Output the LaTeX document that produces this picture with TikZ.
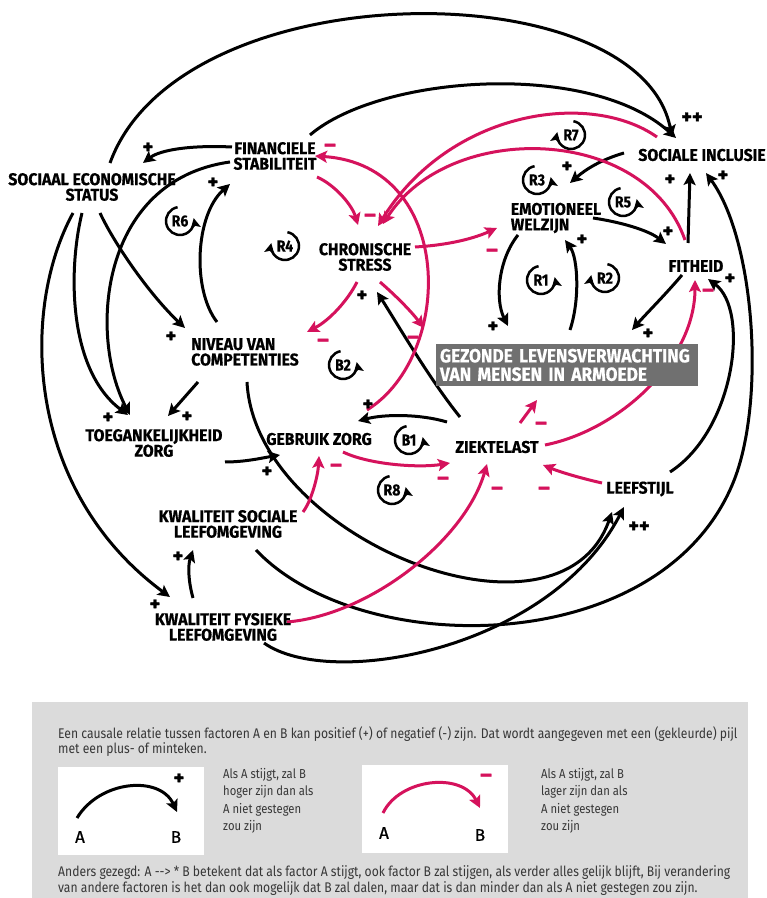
\documentclass[tikz,border=0pt]{standalone}
\usepackage{fontspec}
\setmainfont{Fira Sans}
\newfontfamily\condfont[FakeStretch=0.93, FakeBold=0.6]{Fira Sans}
\newfontfamily\goalfont[FakeStretch=0.91, FakeBold=0.6]{Fira Sans}
\newfontfamily\loopfont[FakeStretch=0.88, FakeBold=0.4]{Fira Sans}
\newfontfamily\signfont[FakeBold=1.5]{Fira Sans}
\newfontfamily\letterfont[FakeBold=0.8]{Fira Sans}
\newfontfamily\legfont[FakeStretch=0.867]{Fira Sans}
\usetikzlibrary{
	arrows.meta,
	backgrounds
}
\definecolor{roze}{RGB}{213,18,92}
\definecolor{kader}{RGB}{219,219,219}
\definecolor{balk}{RGB}{112,112,112}
\definecolor{tekst}{RGB}{55,55,55}

\begin{document}
\begin{tikzpicture}[
		x=1pt, y=1pt,
		factor/.style={font=\condfont\bfseries\fontsize{17}{15.5}\selectfont, align=center, inner sep=1pt},
		goal/.style={fill=balk, text=white, font=\goalfont\bfseries\fontsize{19}{18.5}\selectfont, align=left, text width=254pt, inner xsep=4pt, inner ysep=1pt, minimum height=42pt},
		posarr/.style={line width=3pt, -{Stealth[length=12pt, width=12pt, inset=2.5pt]}},
		negarr/.style={posarr, draw=roze},
		plussign/.style={font=\signfont\bfseries\fontsize{20}{20}\selectfont, inner sep=0pt},
		minsign/.style={font=\signfont\bfseries\fontsize{22}{22}\selectfont, text=roze, inner sep=0pt},
		loopmark/.style={font=\loopfont\bfseries\fontsize{16}{16}\selectfont, inner sep=0pt},
		looparr/.style={line width=2.5pt, -{Stealth[length=10pt, width=10pt, inset=2pt]}},
		voorbeeld/.style={fill=white, minimum width=146pt, minimum height=88pt, inner sep=0pt},
		letter/.style={font=\letterfont\fontsize{17}{17}\selectfont, inner sep=0pt},
		legtext/.style={font=\legfont\fontsize{14}{13.5}\selectfont, text=tekst, align=left, inner sep=0pt},
		boxtext/.style={legtext, font=\legfont\fontsize{13}{17.5}\selectfont}
		]
		\useasboundingbox (0,0) rectangle (767,898);
		
		% Factors
		\node[factor] (ses) at (92,711) {SOCIAAL ECONOMISCHE\\STATUS};
		\node[factor] (fin) at (275,742) {FINANCIELE\\STABILITEIT};
		\node[factor] (stress) at (365,641) {CHRONISCHE\\STRESS};
		\node[factor, align=left] (emo) at (556,680) {EMOTIONEEL\\WELZIJN};
		\node[factor] (incl) at (702,743) {SOCIALE INCLUSIE};
		\node[factor] (fit) at (696,632) {FITHEID};
		\node[factor, align=left] (comp) at (245,546) {NIVEAU VAN\\COMPETENTIES};
		\node[goal] (gezond) at (567,533) {GEZONDE LEVENSVERWACHTING\\VAN MENSEN IN ARMOEDE};
		\node[factor] (toeg) at (154,455) {TOEGANKELIJKHEID\\ZORG};
		\node[factor] (gebruik) at (319,459) {GEBRUIK ZORG};
		\node[factor] (ziekte) at (497,451) {ZIEKTELAST};
		\node[factor] (leefstijl) at (640,409) {LEEFSTIJL};
		\node[factor] (sociaal) at (228,374) {KWALITEIT SOCIALE\\LEEFOMGEVING};
		\node[factor] (fysiek) at (223,271) {KWALITEIT FYSIEKE\\LEEFOMGEVING};
		
		\begin{scope}[on background layer]
			\fill[white] (0,0) rectangle (767,898);
			
			% Positive links
			\draw[posarr] ([shift={(18,24)}]ses.center) .. controls (180,928) and (640,928) .. ([shift={(-30,18)}]incl.center);
			\draw[posarr] ([shift={(35,21)}]fin.center) .. controls (380,823) and (590,838) .. ([shift={(-26,17)}]incl.center);
			\draw[posarr] ([shift={(-43,9)}]fin.center) .. controls (190,753) and (160,748) .. ([shift={(51,24)}]ses.center);
			\draw[posarr] ([shift={(-45,-6)}]fin.center) .. controls (100,718) and (88,563) .. ([shift={(-24,28)}]toeg.center);
			\draw[posarr] ([shift={(-10,-26)}]ses.center) .. controls (68,628) and (68,528) .. ([shift={(-26,28)}]toeg.center);
			\draw[posarr] ([shift={(8,-26)}]ses.center) .. controls (115,653) and (150,603) .. ([shift={(-60,24)}]comp.center);
			\draw[posarr] ([shift={(-19,-26)}]ses.center) .. controls (20,588) and (25,408) .. ([shift={(-53,30)}]fysiek.center);
			\draw[posarr] ([shift={(-28,30)}]comp.center) .. controls (192,608) and (195,683) .. ([shift={(-45,-28)}]fin.center);
			\draw[posarr] ([shift={(-37,30)}]ziekte.center) .. controls (430,518) and (395,578) .. ([shift={(12,-35)}]stress.center);
			\draw[posarr] ([shift={(-50,25)}]ziekte.center) .. controls (420,484) and (385,484) .. ([shift={(39,18)}]gebruik.center);
			\draw[posarr] ([shift={(-38,-17)}]emo.center) .. controls (498,638) and (495,598) .. ([shift={(-59,39)}]gezond.center);
			\draw[posarr] ([shift={(3,35)}]gezond.center) .. controls (580,598) and (578,640) .. ([shift={(9,-22)}]emo.center);
			\draw[posarr] ([shift={(-14,-9)}]fit.center) .. controls (665,603) and (645,583) .. ([shift={(65,35)}]gezond.center);
			\draw[posarr] ([shift={(30,17)}]leefstijl.center) .. controls (735,468) and (750,588) .. ([shift={(12,-13)}]fit.center);
			\draw[posarr] ([shift={(28,-26)}]sociaal.center) .. controls (360,238) and (660,238) .. (733,415)
				.. controls (766,495) and (755,658) .. ([shift={(4,-18)}]incl.center);
			\draw[posarr] ([shift={(-8,23)}]fit.center) -- ([shift={(-12,-18)}]incl.center);
			\draw[posarr] ([shift={(37,0)}]emo.center) .. controls (620,676) and (648,668) .. ([shift={(-30,22)}]fit.center);
			\draw[posarr] ([shift={(-78,2)}]incl.center) .. controls (600,738) and (585,728) .. ([shift={(14,35)}]emo.center);
			\draw[posarr] ([shift={(-47,-30)}]comp.center) -- ([shift={(14,27)}]toeg.center);
			\draw[posarr] ([shift={(71,-19)}]toeg.center) .. controls (245,436) and (262,440) .. ([shift={(-39,-16)}]gebruik.center);
			\draw[posarr] ([shift={(2,-30)}]comp.center) .. controls (255,358) and (560,238) .. ([shift={(-28,-23)}]leefstijl.center);
			\draw[posarr] ([shift={(41,-16)}]fysiek.center) .. controls (330,208) and (550,248) .. ([shift={(-16,-18)}]leefstijl.center);
			\draw[posarr] ([shift={(-30,29)}]fysiek.center) .. controls (188,318) and (188,333) .. ([shift={(-35,-26)}]sociaal.center);
			
			% Negative links
			\draw[negarr] ([shift={(42,-21)}]fin.center) .. controls (335,713) and (352,693) .. ([shift={(-7,32)}]stress.center);
			\draw[negarr] ([shift={(48,29)}]gebruik.center) .. controls (455,543) and (455,733) .. ([shift={(40,0)}]fin.center);
			\draw[negarr] ([shift={(-45,18)}]incl.center) .. controls (590,808) and (450,788) .. ([shift={(13,31)}]stress.center);
			\draw[negarr] ([shift={(-11,26)}]fit.center) .. controls (645,773) and (450,778) .. ([shift={(18,33)}]stress.center);
			\draw[negarr] ([shift={(50,10)}]stress.center) .. controls (450,653) and (475,660) .. ([shift={(-59,-10)}]emo.center);
			\draw[negarr] ([shift={(-8,-25)}]stress.center) .. controls (348,598) and (330,578) .. ([shift={(62,20)}]comp.center);
			\draw[negarr] ([shift={(15,-25)}]stress.center) .. controls (395,603) and (410,588) .. ([shift={(-143,37)}]gezond.center);
			\draw[negarr] ([shift={(24,-13)}]gebruik.center) .. controls (370,433) and (420,430) .. ([shift={(-47,-16)}]ziekte.center);
			\draw[negarr] ([shift={(75,12)}]sociaal.center) .. controls (312,398) and (318,423) .. ([shift={(0,-17)}]gebruik.center);
			\draw[negarr] ([shift={(64,5)}]fysiek.center) .. controls (370,283) and (465,358) .. ([shift={(-10,-17)}]ziekte.center);
			\draw[negarr] ([shift={(-38,6)}]leefstijl.center) .. controls (580,420) and (560,426) .. ([shift={(46,-18)}]ziekte.center);
			\draw[negarr] ([shift={(23,24)}]ziekte.center) -- ([shift={(-30,-35)}]gezond.center);
			\draw[negarr] ([shift={(48,2)}]ziekte.center) .. controls (620,468) and (695,538) .. ([shift={(-1,-14)}]fit.center);
		\end{scope}
		
		% Signs
		\foreach \x/\y [count=\i] in {148/750, 213/715, 108/480, 187/481, 171/561, 155/293, 178/341, 267/426, 368/493,
			362/602, 493/571, 582/658, 567/731, 668/666, 670/718, 723/722, 648/564, 730/619}
			\node[plussign] (plus\i) at (\x,\y) {+};
		\node[plussign] (plusplus1) at (692,780) {++};
		\node[plussign] (plusplus2) at (639,371) {++};
		\foreach \x/\y [count=\i] in {330/750, 370/680, 492/645, 323/555, 413/558, 336/430, 443/417, 497/407, 544/407,
			541/472, 708/605}
			\node[minsign] (min\i) at (\x,\y) {–};
		
		% Loops
		\foreach \n/\x/\y in {R3/537/718, R5/623/696, R1/541/618, R6/180/677, B2/343/533, B1/409/458, R8/392/408}{
			\node[loopmark] (\n) at (\x,\y) {\n};
			\draw[looparr] ([shift={(100:14)}]\n.center) arc[start angle=100, end angle=372, radius=14];
		}
		\foreach \n/\x/\y in {R7/571/763, R2/605/620, R4/285/652}{
			\node[loopmark] (\n) at (\x,\y) {\n};
			\draw[looparr] ([shift={(80:14)}]\n.center) arc[start angle=80, end angle=-192, radius=14];
		}
		
		% Legend
		\fill[kader] (32,0) rectangle (748,196);
		\node[legtext, anchor=west] (uitleg) at (58,156.5) {Een causale relatie tussen factoren A en B kan positief (+) of negatief (-) zijn. Dat wordt aangegeven met een (gekleurde) pijl\\met een plus- of minteken.};
		\node[voorbeeld] (box1) at (131,87) {};
		\node[voorbeeld] (box2) at (435,89) {};
		\node[letter] (posA) at (80,61) {A};
		\node[letter] (posB) at (176,61) {B};
		\node[letter] (negA) at (384,65) {A};
		\node[letter] (negB) at (480,63) {B};
		\draw[posarr] ([shift={(-3,19)}]posA.center) .. controls (100,118) and (160,123) .. ([shift={(1,25)}]posB.center);
		\draw[negarr] ([shift={(-1,20)}]negA.center) .. controls (400,120) and (462,126) .. ([shift={(0,27)}]negB.center);
		\node[plussign] (legplus) at (179,119) {+};
		\node[minsign] (legmin) at (486,120) {–};
		\node[boxtext, anchor=west] (uitleg1) at (223,97) {Als A stijgt, zal B\\hoger zijn dan als\\A niet gestegen\\zou zijn};
		\node[boxtext, anchor=west] (uitleg2) at (541,97) {Als A stijgt, zal B\\lager zijn dan als\\A niet gestegen\\zou zijn};
		\node[legtext, anchor=west, font=\legfont\fontsize{14}{15.5}\selectfont] (anders) at (58,17.5) {Anders gezegd: A --> * B betekent dat als factor A stijgt, ook factor B zal stijgen, als verder alles gelijk blijft, Bij verandering\\van andere factoren is het dan ook mogelijk dat B zal dalen, maar dat is dan minder dan als A niet gestegen zou zijn.};
		
	\end{tikzpicture}
\end{document}
